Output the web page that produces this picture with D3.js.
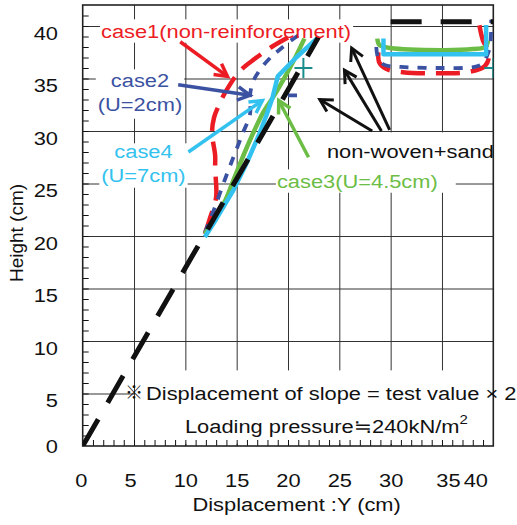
<!DOCTYPE html>
<html>
<head>
<meta charset="utf-8">
<title>Slope displacement</title>
<script src="https://cdn.jsdelivr.net/npm/d3@7"></script>
<style>
  html, body { margin: 0; padding: 0; background: #ffffff; }
  svg { display: block; font-family: "Liberation Sans", Arial, Helvetica, "DejaVu Sans", sans-serif; }
</style>
</head>
<body>
<svg id="chart" width="517" height="525"></svg>
<script>
// Chart data (x = displacement in cm, y = height in cm)

const xTickValues = [0, 5, 10, 15, 20, 25, 30, 35, 40];
const yTickValues = [0, 5, 10, 15, 20, 25, 30, 35, 40];

// Initial slope shape (black dashed): face and crest
const initialFace = [[0, 0], [23.0, 39.0]];
const initialCrest = [[30.0, 40.4], [40.0, 40.4]];

// case1 (non-reinforcement)
const case1Face = [[11.9, 20.2], [12.4, 21.7], [13.0, 23.7], [12.9, 26.4], [12.9, 27.7], [12.6, 29.8], [12.8, 31.3], [13.2, 32.3], [13.9, 33.7], [15.3, 35.7], [16.8, 36.9], [18.4, 38.0], [20.0, 38.9]];
const case1Crest = [[28.8, 37.5], [28.9, 36.5], [29.6, 35.9], [31.2, 35.6], [34.5, 35.5], [37.5, 35.6], [39.2, 36.2], [39.6, 37.4], [39.0, 38.6], [38.6, 40.3]];

// case2 (U=2cm)
const case2Face = [[11.9, 20.3], [12.9, 22.8], [13.9, 25.5], [14.8, 27.8], [15.6, 29.8], [16.3, 31.6], [16.3, 33.4], [16.6, 34.7], [17.4, 36.0], [18.4, 37.1], [19.0, 37.6], [20.4, 38.7], [21.2, 39.2]];
const case2Mark = [[20.0, 33.4], [21.0, 33.4]];
const case2Crest = [[28.6, 38.0], [28.8, 36.9], [29.4, 36.3], [31.0, 36.1], [35.0, 36.0], [38.2, 36.1], [38.9, 36.4], [39.4, 37.2], [39.7, 38.2], [39.8, 40.6]];

// case3 (U=4.5cm)
const case3Face = [[11.9, 20.2], [13.0, 21.8], [13.9, 23.4], [14.8, 25.6], [15.8, 28.0], [16.7, 30.0], [17.6, 31.8], [18.6, 33.3], [19.5, 34.8], [20.5, 36.6], [21.6, 38.8]];
const case3Crest = [[28.7, 38.8], [28.9, 38.2], [30.0, 37.9], [35.0, 37.7], [38.0, 37.8], [39.2, 38.0], [39.5, 38.6]];

// case4 (U=7cm)
const case4Face = [[11.9, 19.9], [13.0, 21.6], [14.7, 24.4], [16.0, 27.0], [17.2, 29.7], [17.9, 31.5], [18.5, 33.2], [19.0, 35.2], [20.8, 37.0], [22.8, 38.8]];
const case4Crest = [[29.3, 38.8], [29.3, 37.3], [39.3, 37.3], [39.3, 40.1]];

// Measurement crosses (teal)
const crossMarks = [[21.5, 36.0], [40.0, 36.0]];

// Texts
const case1Text = ["case1(non-reinforcement)"];
const case2Text = ["case2", "(U=2cm)"];
const case3Text = ["case3(U=4.5cm)"];
const case4Text = ["case4", "(U=7cm)"];
const sandText = ["non-woven+sand"];
const noteMark = "※";
const noteText = ["Displacement of slope = test value × 2"];
const loadText = "Loading pressure≒240kN/m";
const loadSup = "2";
const xTitle = "Displacement :Y (cm)";
const yTitle = "Height (cm)";


// -- Look -- //
const FONT_SIZE = 19;
const STRETCH = 1.15;   // the figure's lettering is a little wide
const COLOURS = {
  case1: "#ec1c24",
  case2: "#3b52a2",
  case3: "#6cbd45",
  case4: "#33c2ef",
  black: "#111111",
  teal: "#1a8c8c",
  grid: "#333333",
};

drawChart();


// -- Function definitions -- //

function drawChart() {
  let svg = d3.select("#chart");
  let x = d3.scaleLinear().domain([0, 40]).range([82.7, 493.3]);
  let y = d3.scaleLinear().domain([0, 42]).range([446, 5]);
  let x0 = x(0), x1 = x(40), y0 = y(0), y1 = y(42);

  svg.append("rect").attr("width", 517).attr("height", 525).attr("fill", "#fff");

  // Layers, bottom to top
  let layers = {
    grid: svg.append("g"),
    bg: svg.append("g").attr("fill", "#fff"),
    axis: svg.append("g"),
    lines: svg.append("g").attr("clip-path", "url(#plotClip)"),
    arrow: svg.append("g"),
    text: svg.append("g"),
  };
  svg.append("clipPath").attr("id", "plotClip")
    .append("rect").attr("x", x0).attr("y", y1).attr("width", x1 - x0).attr("height", y0 - y1);

  // Grid lines
  layers.grid.append("g")
    .attr("transform", `translate(0,${y0})`)
    .call(d3.axisBottom(x).tickValues(xTickValues.slice(1, -1)).tickSize(-(y0 - y1)).tickFormat(""))
    .call(g => g.select(".domain").remove());
  layers.grid.append("g")
    .attr("transform", `translate(${x0},0)`)
    .call(d3.axisLeft(y).tickValues(yTickValues.slice(1)).tickSize(-(x1 - x0)).tickFormat(""))
    .call(g => g.select(".domain").remove());
  layers.grid.selectAll("line").attr("stroke", COLOURS.grid).attr("stroke-width", 1);

  // Minor ticks (inside) on left and bottom
  layers.axis.append("g")
    .attr("transform", `translate(${x0},0)`)
    .call(d3.axisLeft(y).tickValues(d3.range(1, 42)).tickSize(-6).tickFormat(""))
    .call(g => g.select(".domain").remove());
  layers.axis.append("g")
    .attr("transform", `translate(0,${y0})`)
    .call(d3.axisBottom(x).tickValues(d3.range(1, 40)).tickSize(-6).tickFormat(""))
    .call(g => g.select(".domain").remove());
  layers.axis.selectAll("line").attr("stroke", "#111").attr("stroke-width", 1);

  // Frame
  layers.axis.append("rect")
    .attr("x", x0).attr("y", y1).attr("width", x1 - x0).attr("height", y0 - y1)
    .attr("fill", "none").attr("stroke", "#222").attr("stroke-width", 1.6);

  // Tick labels
  let xNudge = d => d === 40 ? -18 : d === 35 ? 6 : d === 5 ? -4 : d === 0 ? -2 : 0;
  layers.text.append("g")
    .attr("transform", `translate(0,${y0})`)
    .call(d3.axisBottom(x).tickValues(xTickValues).tickSize(0).tickPadding(28))
    .call(g => g.select(".domain").remove())
    .attr("font-family", null).attr("font-size", FONT_SIZE)
    .call(g => g.selectAll("text").attr("fill", "#111")
      .attr("transform", d => `translate(${xNudge(d)},0) scale(${STRETCH},1)`));
  layers.text.append("g")
    .attr("transform", `translate(${x0},0)`)
    .call(d3.axisLeft(y).tickValues(yTickValues).tickSize(0).tickPadding(21.5))
    .call(g => g.select(".domain").remove())
    .attr("font-family", null).attr("font-size", FONT_SIZE)
    .call(g => g.selectAll("text").attr("fill", "#111")
      .attr("transform", d => `translate(0,${d === 0 ? 0 : 7}) scale(${STRETCH},1)`));

  // Axis titles
  layers.text.append("text")
    .attr("transform", `translate(${x(20.84)},${y0 + 65}) scale(${STRETCH},1)`)
    .attr("text-anchor", "middle").attr("font-size", FONT_SIZE).attr("fill", "#111")
    .text(xTitle);
  layers.text.append("text")
    .attr("transform", `translate(23,233) rotate(-90)`)
    .attr("text-anchor", "middle").attr("font-size", FONT_SIZE).attr("fill", "#111")
    .text(yTitle);

  // Curves
  let line = curve => d3.line().x(d => x(d[0])).y(d => y(d[1])).curve(curve);
  let series = [
    {paths: [case1Face, case1Crest], colour: COLOURS.case1, width: 4.5, dash: "24,11", curve: d3.curveCatmullRom},
    {paths: [case2Face, case2Crest, case2Mark], colour: COLOURS.case2, width: 3.8, dash: "9,9", curve: d3.curveCatmullRom},
    {paths: [case3Face, case3Crest], colour: COLOURS.case3, width: 4.5, dash: null, curve: d3.curveCatmullRom},
    {paths: [case4Face, case4Crest], colour: COLOURS.case4, width: 4.5, dash: null, curve: d3.curveLinear},
    {paths: [initialFace, initialCrest], colour: COLOURS.black, width: 5, dash: "31,19", curve: d3.curveLinear},
  ];
  series.forEach(s => {
    layers.lines.append("g")
      .selectAll("path")
      .data(s.paths)
      .join("path")
        .attr("d", d => line(s.curve)(d))
        .attr("fill", "none")
        .attr("stroke", s.colour)
        .attr("stroke-width", s.width)
        .attr("stroke-dasharray", s.dash)
        .attr("stroke-linejoin", "round");
  });
  layers.lines.append("g")
    .selectAll("path")
    .data(crossMarks)
    .join("path")
      .attr("transform", d => `translate(${x(d[0])},${y(d[1])})`)
      .attr("d", "M-9,0H9M0,-10V10")
      .attr("stroke", COLOURS.teal)
      .attr("stroke-width", 2);

  // Labels (with white boxes that hide the grid)
  addLabel(layers, case1Text, [x(1.78), y(38.86)], {colour: COLOURS.case1, pad: [1, 2, 1, 1]});
  addLabel(layers, case2Text, [x(5.58), y(34.19)], {colour: COLOURS.case2, anchor: "middle", lineHeight: 24, pad: [0, 2, 4, 2]});
  addLabel(layers, case4Text, [x(5.92), y(27.43)], {colour: COLOURS.case4, anchor: "middle", lineHeight: 24, pad: [-3, 2, 2, 2]});
  addLabel(layers, case3Text, [x(18.92), y(24.57)], {colour: COLOURS.case3, pad: [1, 18, 1, 1]});
  addLabel(layers, sandText, [x(23.79), y(27.43)], {colour: COLOURS.black, pad: [8, 2, 10, 7]});
  addLabel(layers, noteText, [x(6.17), y(4.38)], {colour: COLOURS.black, pad: [12, 4, 40, 11]});
  let load = addLabel(layers, [loadText], [x(9.96), y(1.24)], {colour: COLOURS.black});
  load.append("tspan").attr("dy", -9).attr("font-size", 13).text(loadSup);
  layers.text.append("text")
    .attr("x", x(5)).attr("y", y(4.38) - 1)
    .attr("text-anchor", "middle").attr("font-size", 18).attr("fill", "#111")
    .attr("font-family", "'Noto Sans CJK JP', 'DejaVu Sans', sans-serif")
    .text(noteMark);

  // Arrows: [from, to] in data units
  drawArrow(layers.arrow, x, y, [9.5, 38.5], [14.1, 35.2], COLOURS.case1, 3.5);
  drawArrow(layers.arrow, x, y, [9.3, 34.4], [16.3, 33.4], COLOURS.case2, 3.5);
  drawArrow(layers.arrow, x, y, [10.3, 28.0], [17.5, 32.9], COLOURS.case4, 3.5);
  drawArrow(layers.arrow, x, y, [22.0, 27.5], [19.1, 32.9], COLOURS.case3, 3.5);
  drawArrow(layers.arrow, x, y, [28.2, 30.0], [23.1, 33.0], COLOURS.black, 3);
  drawArrow(layers.arrow, x, y, [29.1, 30.0], [25.5, 35.8], COLOURS.black, 3);
  drawArrow(layers.arrow, x, y, [29.9, 30.1], [26.2, 37.9], COLOURS.black, 3);
}

// Text block with an optional white box behind it; pad = [top, right, bottom, left]
function addLabel(layers, lines, at, opt) {
  let g = layers.text.append("g")
    .attr("transform", `translate(${at[0]},${at[1]}) scale(${STRETCH},1)`);
  let t = g.append("text")
    .attr("fill", opt.colour)
    .attr("font-size", opt.size || FONT_SIZE)
    .attr("text-anchor", opt.anchor || "start");
  lines.forEach((line, i) => {
    t.append("tspan").attr("x", 0).attr("y", i * (opt.lineHeight || 24)).text(line);
  });
  if (opt.pad) {
    let p = opt.pad;
    let ref = document.getElementById("chart").getBoundingClientRect();
    let box = g.node().getBoundingClientRect();
    layers.bg.append("rect")
      .attr("x", box.left - ref.left - p[3])
      .attr("y", box.top - ref.top - p[0])
      .attr("width", box.width + p[1] + p[3])
      .attr("height", box.height + p[0] + p[2]);
  }
  return t;
}

// Straight arrow with an open V head at the target
function drawArrow(g, x, y, from, to, colour, width) {
  let xa = x(from[0]), ya = y(from[1]), xb = x(to[0]), yb = y(to[1]);
  let ang = Math.atan2(yb - ya, xb - xa);
  let head = 14, spread = 0.5;
  g.append("line")
    .attr("x1", xa).attr("y1", ya).attr("x2", xb).attr("y2", yb)
    .attr("stroke", colour).attr("stroke-width", width);
  g.append("path")
    .attr("d", `M${xb - head * Math.cos(ang - spread)},${yb - head * Math.sin(ang - spread)}`
      + `L${xb},${yb}`
      + `L${xb - head * Math.cos(ang + spread)},${yb - head * Math.sin(ang + spread)}`)
    .attr("fill", "none")
    .attr("stroke", colour)
    .attr("stroke-width", width)
    .attr("stroke-linejoin", "miter");
}
</script>
</body>
</html>
